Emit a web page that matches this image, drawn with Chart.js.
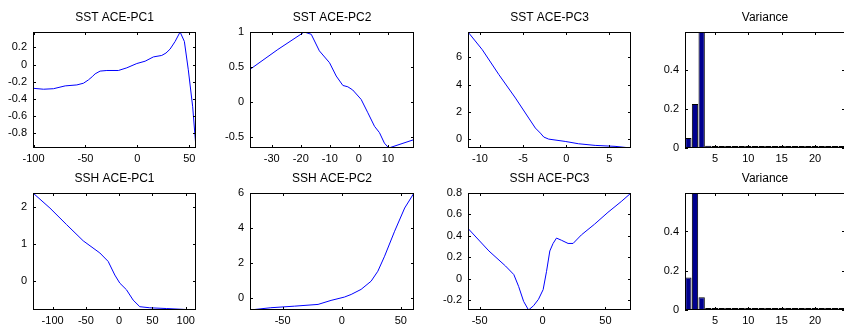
<!DOCTYPE html>
<html>
<head>
<meta charset="utf-8">
<script src="https://cdn.jsdelivr.net/npm/chart.js@4.4.1/dist/chart.umd.min.js"></script>
<style>
html, body { margin: 0; padding: 0; background: #fff; overflow: hidden; }
body { width: 844px; height: 327px; position: relative; }
canvas { position: absolute; }
</style>
</head>
<body>
<canvas id="p1"></canvas>
<canvas id="p2"></canvas>
<canvas id="p3"></canvas>
<canvas id="p4"></canvas>
<canvas id="p5"></canvas>
<canvas id="p6"></canvas>
<canvas id="p7"></canvas>
<canvas id="p8"></canvas>
<script>
// ---- data ----
var sstPc1X = [-100.5, -90.4, -80.8, -69.5, -58.3, -51.9, -47.1, -43.5, -40.7, -35.9, -29.4, -18.3, -10.2, -0.6, 7.4, 15.4, 23.4, 27.5, 31.4, 36.3, 41.1, 45.2, 49.0, 53.2, 56.4];
var sstPc1Y = [-0.275, -0.286, -0.28, -0.247, -0.236, -0.216, -0.177, -0.14, -0.107, -0.075, -0.068, -0.068, -0.037, 0.013, 0.04, 0.09, 0.107, 0.135, 0.18, 0.27, 0.38, 0.27, -0.06, -0.49, -0.97];
var sstPc2X = [-37.5, -27.9, -18.8, -16.4, -13.6, -10.1, -7.8, -5.5, -3.8, -2.1, 0.8, 3.1, 5.4, 7.1, 8.8, 10.3, 19];
var sstPc2Y = [0.465, 0.75, 1.0, 0.967, 0.73, 0.56, 0.37, 0.235, 0.216, 0.17, 0.035, -0.156, -0.35, -0.44, -0.59, -0.66, -0.54];
var sstPc3X = [-11.38, -9.73, -7.8, -5.88, -4.35, -3.58, -3.0, -2.6, -2.04, -0.12, 1.42, 3.35, 5.65, 7.5];
var sstPc3Y = [7.85, 6.56, 4.73, 3.02, 1.56, 0.83, 0.46, 0.17, 0.02, -0.15, -0.32, -0.44, -0.51, -0.63];
var sstVariance = [0.051, 0.225, 0.593, 0.012, 0.008, 0.004, 0.002, 0.0015, 0.001, 0.001, 0.001, 0.001, 0.001, 0.001, 0.001, 0.001, 0.001, 0.001, 0.001, 0.001, 0.001, 0.001, 0.001, 0.001];

var sshPc1X = [-129.5, -104, -79, -54, -29, -16.5, -6.5, 1, 11, 21, 31, 46, 71, 115.5];
var sshPc1Y = [2.38, 1.97, 1.52, 1.08, 0.75, 0.52, 0.15, -0.07, -0.25, -0.53, -0.71, -0.74, -0.76, -0.8];
var sshPc2X = [-77.6, -60, -40, -20, -9, 2.3, 8, 16.4, 24.9, 30.6, 36.3, 44.8, 53.3, 61.2];
var sshPc2Y = [-0.7, -0.57, -0.48, -0.38, -0.15, 0.04, 0.19, 0.48, 0.95, 1.52, 2.38, 3.81, 5.14, 6.0];
var sshPc3X = [-59.2, -42.6, -29.4, -22.8, -19, -15, -11.1, -7.1, -3.2, 0.5, 3.2, 5.8, 8.4, 11.1, 15, 20.3, 24.3, 30.9, 41.4, 52, 62.5, 70.3];
var sshPc3Y = [0.47, 0.26, 0.12, 0.04, -0.07, -0.21, -0.29, -0.25, -0.19, -0.1, 0.07, 0.26, 0.33, 0.38, 0.36, 0.33, 0.33, 0.41, 0.51, 0.62, 0.72, 0.8];
var sshVariance = [0.165, 0.596, 0.065, 0.01, 0.005, 0.004, 0.002, 0.001, 0.001, 0.001, 0.001, 0.001, 0.001, 0.001, 0.001, 0.001, 0.001, 0.001, 0.001, 0.002, 0.001, 0.001, 0.001, 0.001];
var modeNumbers = [1, 2, 3, 4, 5, 6, 7, 8, 9, 10, 11, 12, 13, 14, 15, 16, 17, 18, 19, 20, 21, 22, 23, 24];

// tick labels
var ticksPc1X = [-100, -50, 0, 50];
var ticksPc1Y = [-0.8, -0.6, -0.4, -0.2, 0, 0.2];
var ticksPc2X = [-30, -20, -10, 0, 10];
var ticksPc2Y = [-0.5, 0, 0.5, 1];
var ticksPc3X = [-10, -5, 0, 5];
var ticksPc3Y = [0, 2, 4, 6];
var ticksVarX = [5, 10, 15, 20];
var ticksVarY = [0, 0.2, 0.4];
var ticksSsh1X = [-100, -50, 0, 50, 100];
var ticksSsh1Y = [0, 1, 2];
var ticksSsh2X = [-50, 0, 50];
var ticksSsh2Y = [0, 2, 4, 6];
var ticksSsh3X = [-50, 0, 50];
var ticksSsh3Y = [-0.2, 0, 0.2, 0.4, 0.6, 0.8];

// margins around each axes box inside its canvas
var ML = 45, MR = 12, MT = 30, MB = 22;
var FONT = '"Liberation Sans", Arial, Helvetica, sans-serif';

var matlabBox = {
  id: 'matlabBox',
  afterDatasetsDraw: function (chart, args, opts) {
    var a = chart.chartArea, c = chart.ctx;
    var sx = chart.scales.x, sy = chart.scales.y;
    c.save();
    c.strokeStyle = '#000';
    c.lineWidth = 1;
    c.beginPath();
    sx.ticks.forEach(function (t) {
      var px = Math.round(sx.getPixelForValue(t.value)) + 0.5;
      c.moveTo(px, a.bottom); c.lineTo(px, a.bottom - 3);
      c.moveTo(px, a.top); c.lineTo(px, a.top + 3);
    });
    sy.ticks.forEach(function (t) {
      var py = Math.round(sy.getPixelForValue(t.value)) + 0.5;
      c.moveTo(a.left, py); c.lineTo(a.left + 3, py);
      c.moveTo(a.right, py); c.lineTo(a.right - 3, py);
    });
    c.stroke();
    c.strokeRect(a.left + 0.5, a.top + 0.5, a.right - a.left - 1, a.bottom - a.top - 1);
    c.fillStyle = '#000';
    c.font = '12px ' + FONT;
    c.textAlign = 'center';
    c.textBaseline = 'alphabetic';
    c.fillText(opts.text, (a.left + a.right) / 2, a.top - 11);
    c.restore();
  }
};

function pairs(xs, ys) {
  return xs.map(function (x, i) { return { x: x, y: ys[i] }; });
}

function axis(ticks, min, max, isY) {
  return {
    type: 'linear',
    min: min,
    max: max,
    offset: false,
    grid: { display: false, drawTicks: false },
    border: { display: false },
    afterBuildTicks: function (s) {
      s.ticks = ticks.map(function (v) { return { value: v }; });
    },
    afterFit: function (s) {
      if (isY) s.width = ML; else s.height = MB;
    },
    ticks: {
      autoSkip: false,
      maxRotation: 0,
      color: '#000',
      padding: isY ? 6 : 4,
      font: { family: FONT, size: 11 },
      callback: function (v) { return String(v); }
    }
  };
}

function panel(id, box, title, type, data, xTicks, yTicks, xr, yr) {
  var cv = document.getElementById(id);
  var w = box[2] + ML + MR, h = box[3] + MT + MB;
  cv.width = w; cv.height = h;
  cv.style.left = (box[0] - ML) + 'px';
  cv.style.top = (box[1] - MT) + 'px';
  cv.style.width = w + 'px';
  cv.style.height = h + 'px';
  var ds = type === 'bar' ? {
    data: data,
    backgroundColor: 'rgb(0,0,143)',
    borderColor: '#000',
    borderWidth: 1,
    minBarLength: 2,
    barPercentage: 0.95,
    categoryPercentage: 1
  } : {
    data: data,
    borderColor: 'rgb(0,0,255)',
    borderWidth: 1,
    pointRadius: 0,
    fill: false,
    tension: 0
  };
  return new Chart(cv, {
    type: type,
    data: { datasets: [ds] },
    options: {
      responsive: false,
      animation: false,
      devicePixelRatio: 1,
      layout: { padding: { top: MT, right: MR, left: 0, bottom: 0 } },
      plugins: {
        legend: { display: false },
        tooltip: { enabled: false },
        matlabBox: { text: title }
      },
      scales: {
        x: axis(xTicks, xr[0], xr[1], false),
        y: axis(yTicks, yr[0], yr[1], true)
      }
    },
    plugins: [matlabBox]
  });
}

function range(arr) {
  return [Math.min.apply(null, arr), Math.max.apply(null, arr)];
}

panel('p1', [33, 32, 163, 116], 'SST ACE-PC1', 'line', pairs(sstPc1X, sstPc1Y), ticksPc1X, ticksPc1Y, range(sstPc1X), range(sstPc1Y));
panel('p2', [250, 32, 164, 116], 'SST ACE-PC2', 'line', pairs(sstPc2X, sstPc2Y), ticksPc2X, ticksPc2Y, range(sstPc2X), range(sstPc2Y));
panel('p3', [468, 32, 163, 116], 'SST ACE-PC3', 'line', pairs(sstPc3X, sstPc3Y), ticksPc3X, ticksPc3Y, range(sstPc3X), range(sstPc3Y));
panel('p4', [685, 32, 160, 116], 'Variance', 'bar', pairs(modeNumbers, sstVariance), ticksVarX, ticksVarY, [0.5, 24.5], [0, Math.max.apply(null, sstVariance)]);
panel('p5', [33, 193, 163, 117], 'SSH ACE-PC1', 'line', pairs(sshPc1X, sshPc1Y), ticksSsh1X, ticksSsh1Y, range(sshPc1X), range(sshPc1Y));
panel('p6', [250, 193, 164, 117], 'SSH ACE-PC2', 'line', pairs(sshPc2X, sshPc2Y), ticksSsh2X, ticksSsh2Y, range(sshPc2X), range(sshPc2Y));
panel('p7', [468, 193, 163, 117], 'SSH ACE-PC3', 'line', pairs(sshPc3X, sshPc3Y), ticksSsh3X, ticksSsh3Y, range(sshPc3X), range(sshPc3Y));
panel('p8', [685, 193, 160, 117], 'Variance', 'bar', pairs(modeNumbers, sshVariance), ticksVarX, ticksVarY, [0.5, 24.5], [0, Math.max.apply(null, sshVariance)]);
</script>
</body>
</html>
